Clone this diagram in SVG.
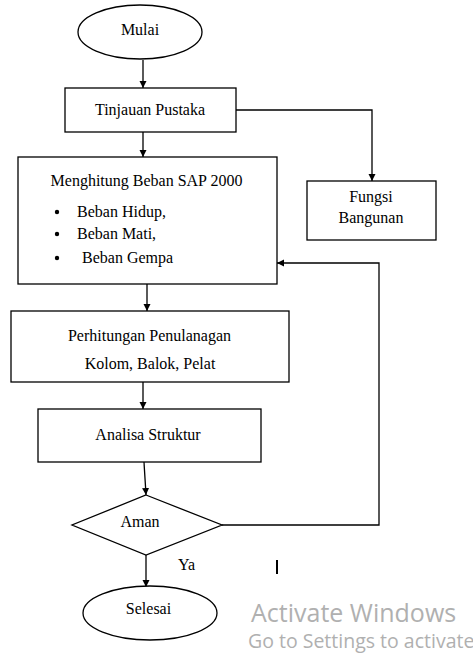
<svg xmlns="http://www.w3.org/2000/svg" width="473" height="654" viewBox="0 0 473 654">
<style>
.s{fill:#fff;stroke:#000;stroke-width:1.3}
.t{font-family:'Liberation Serif','Times New Roman',serif;font-size:16px;fill:#000}
.c{stroke:#000;stroke-width:1.3;fill:none}
.w{font-family:'Open Sans','Noto Sans',sans-serif;fill:#b0b0b0}
</style>
<defs>
<marker id="a" markerWidth="8" markerHeight="8" refX="7" refY="4" orient="auto" markerUnits="userSpaceOnUse">
<path d="M0,0.5 L7,4 L0,7.5 Z" fill="#000"/>
</marker>
</defs>
<rect width="473" height="654" fill="#fff"/>
<g id="connectors">
<line class="c" x1="143" y1="60" x2="143" y2="88" marker-end="url(#a)"/>
<polyline class="c" points="236,110 372,110 372,181" marker-end="url(#a)"/>
<line class="c" x1="143" y1="132" x2="143" y2="157" marker-end="url(#a)"/>
<line class="c" x1="147" y1="284" x2="147" y2="311" marker-end="url(#a)"/>
<line class="c" x1="143" y1="382" x2="143" y2="409" marker-end="url(#a)"/>
<line class="c" x1="144" y1="462" x2="146" y2="495" marker-end="url(#a)"/>
<polyline class="c" points="222,525 379,525 379,263 277,263" marker-end="url(#a)"/>
<line class="c" x1="146" y1="555" x2="146" y2="587" marker-end="url(#a)"/>
<text class="t" x="178" y="570">Ya</text>
</g>
<g id="mulai">
<ellipse class="s" cx="140" cy="32" rx="62" ry="27"/>
<text class="t" x="140" y="35" text-anchor="middle">Mulai</text>
</g>
<g id="tinjauan">
<rect class="s" x="65" y="88" width="171" height="44"/>
<text class="t" x="150" y="115" text-anchor="middle">Tinjauan  Pustaka</text>
</g>
<g id="fungsi">
<rect class="s" x="307" y="181" width="129" height="59"/>
<text class="t" x="371" y="202" text-anchor="middle">Fungsi</text>
<text class="t" x="371" y="223" text-anchor="middle">Bangunan</text>
</g>
<g id="menghitung">
<rect class="s" x="18" y="157" width="259" height="127"/>
<text class="t" x="146.5" y="186" text-anchor="middle">Menghitung  Beban SAP 2000</text>
<circle cx="57" cy="212" r="2.2"/>
<circle cx="57" cy="234" r="2.2"/>
<circle cx="57" cy="258" r="2.2"/>
<text class="t" x="77" y="217">Beban Hidup,</text>
<text class="t" x="77" y="239">Beban Mati,</text>
<text class="t" x="82" y="263">Beban Gempa</text>
</g>
<g id="perhitungan">
<rect class="s" x="11" y="311" width="278" height="71"/>
<text class="t" x="149.5" y="341" text-anchor="middle">Perhitungan Penulanagan</text>
<text class="t" x="150" y="369" text-anchor="middle">Kolom, Balok, Pelat</text>
</g>
<g id="analisa">
<rect class="s" x="38" y="409" width="223" height="53"/>
<text class="t" x="148" y="440" text-anchor="middle">Analisa Struktur</text>
</g>
<g id="aman">
<polygon class="s" points="146,495 222,525 146,555 72,525"/>
<text class="t" x="140" y="527" text-anchor="middle">Aman</text>
</g>
<g id="selesai">
<ellipse class="s" cx="150" cy="613" rx="67" ry="27"/>
<text class="t" x="148.5" y="614" text-anchor="middle">Selesai</text>
</g>
<rect x="276" y="560" width="2" height="14" fill="#000"/>
<text class="w" x="251" y="622" font-size="25">Activate Windows</text>
<text class="w" x="248" y="648" font-size="19.5" fill="#a8a8a8">Go to Settings to activate</text>
</svg>
